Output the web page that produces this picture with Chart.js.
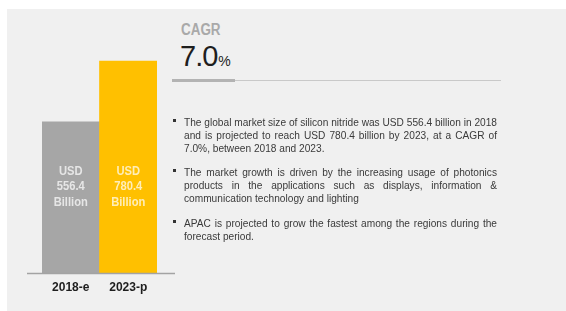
<!DOCTYPE html>
<html>
<head>
<meta charset="utf-8">
<script src="https://cdn.jsdelivr.net/npm/chart.js@4.4.0/dist/chart.umd.min.js"></script>
<style>
  html, body { margin: 0; padding: 0; background: #ffffff; }
  body { width: 566px; height: 311px; position: relative; overflow: hidden; }
  #panel { position: absolute; left: 7px; top: 9px; width: 559px; height: 302px; background: #f0f0f0; }
  #wrap { position: absolute; left: 20px; top: 40px; width: 160px; height: 265px; }
  #cagrLabel { position: absolute; left: 181px; top: 20px; font-family: "Liberation Sans", Arial, sans-serif; font-weight: bold; font-size: 16px; color: #a9a9a9; line-height: 20px; transform: scaleX(0.84); transform-origin: left top; }
  #cagrValue { position: absolute; left: 180px; top: 39px; font-family: "Liberation Sans", Arial, sans-serif; font-size: 29px; color: #1e1e1e; line-height: 34px; letter-spacing: -1px; }
  #cagrValue span { font-size: 14px; letter-spacing: 0; margin-left: 1px; }
  #thin { position: absolute; left: 172px; top: 80px; width: 329px; height: 1px; background: #c9c9c9; }
  #thick { position: absolute; left: 172px; top: 79px; width: 63px; height: 3px; background: #b3b3b3; }
  .para { position: absolute; left: 184px; width: 313px; font-family: "Liberation Sans", Arial, sans-serif; font-size: 11.5px; color: #3a3a3a; line-height: 13px; transform-origin: left top; }
  .para .l { display: block; text-align: justify; text-align-last: justify; white-space: normal; }
  .para .l.last { text-align: left; text-align-last: left; }
  .bul { position: absolute; left: 173px; width: 3px; height: 3px; background: #333; }
  .measure { position: absolute; visibility: hidden; white-space: nowrap; font-family: "Liberation Sans", Arial, sans-serif; font-size: 11.5px; }
</style>
</head>
<body>
<div id="panel"></div>
<div id="wrap"><canvas id="c"></canvas></div>
<div id="cagrLabel">CAGR</div>
<div id="cagrValue">7.0<span>%</span></div>
<div id="thin"></div>
<div id="thick"></div>
<div class="bul" style="top:119px"></div>
<div class="bul" style="top:169px"></div>
<div class="bul" style="top:220px"></div>
<div class="para" style="top:116px">
  <div class="l">The global market size of silicon nitride was USD 556.4 billion in 2018</div>
  <div class="l">and is projected to reach USD 780.4 billion by 2023, at a CAGR of</div>
  <div class="l last">7.0%, between 2018 and 2023.</div>
</div>
<div class="para" style="top:166px">
  <div class="l">The market growth is driven by the increasing usage of photonics</div>
  <div class="l">products in the applications such as displays, information &amp;</div>
  <div class="l last">communication technology and lighting</div>
</div>
<div class="para" style="top:217px">
  <div class="l">APAC is projected to grow the fastest among the regions during the</div>
  <div class="l last">forecast period.</div>
</div>
<span class="measure" id="m">The global market size of silicon nitride was USD 556.4 billion in 2018</span>
<script>
const categories = ["2018-e", "2023-p"];
const marketValues = [556.4, 780.4];
const barColors = ["#a6a6a6", "#ffc000"];
const barLabelLines = [["USD", "556.4", "Billion"], ["USD", "780.4", "Billion"]];
const yMax = 800;

// fit body text: condense horizontally so the longest line spans the text column
(function () {
  const target = 313;
  const natural = document.getElementById("m").getBoundingClientRect().width;
  const s = Math.min(1, target / natural);
  document.querySelectorAll(".para").forEach(p => {
    p.style.width = (target / s) + "px";
    p.style.transform = "scaleX(" + s + ")";
  });
})();

const overlay = {
  id: "overlay",
  afterDatasetsDraw(chart) {
    const ctx = chart.ctx;
    const area = chart.chartArea;
    ctx.save();
    ctx.strokeStyle = "#a3a3a3";
    ctx.lineWidth = 1.5;
    ctx.beginPath();
    ctx.moveTo(area.left - 15, area.bottom + 0.25);
    ctx.lineTo(area.right + 18, area.bottom + 0.25);
    ctx.stroke();
    const meta = chart.getDatasetMeta(0);
    ctx.font = 'bold 13px "Liberation Sans", Arial, sans-serif';
    ctx.textAlign = "center";
    ctx.textBaseline = "middle";
    ctx.fillStyle = "rgba(255,255,255,0.72)";
    const sx = 0.86;
    meta.data.forEach((bar, i) => {
      barLabelLines[i].forEach((t, j) => {
        ctx.save();
        ctx.translate(bar.x, area.bottom - 102 + j * 15.4);
        ctx.scale(sx, 1);
        ctx.fillText(t, 0, 0);
        ctx.restore();
      });
    });
    ctx.restore();
  }
};

new Chart(document.getElementById("c"), {
  type: "bar",
  data: {
    labels: categories,
    datasets: [{
      data: marketValues,
      backgroundColor: barColors,
      borderWidth: 0,
      barPercentage: 1,
      categoryPercentage: 1
    }]
  },
  options: {
    responsive: true,
    maintainAspectRatio: false,
    animation: false,
    events: [],
    layout: { padding: { left: 22, right: 23, top: 15.7, bottom: 3.4 } },
    plugins: { legend: { display: false }, tooltip: { enabled: false }, title: { display: false } },
    scales: {
      x: {
        grid: { display: false, drawTicks: false },
        border: { display: false },
        ticks: {
          padding: 7,
          color: "#1e1e1e",
          font: { family: '"Liberation Sans", Arial, sans-serif', size: 12, weight: "bold" }
        }
      },
      y: { display: false, min: 0, max: yMax }
    }
  },
  plugins: [overlay]
});
</script>
</body>
</html>
